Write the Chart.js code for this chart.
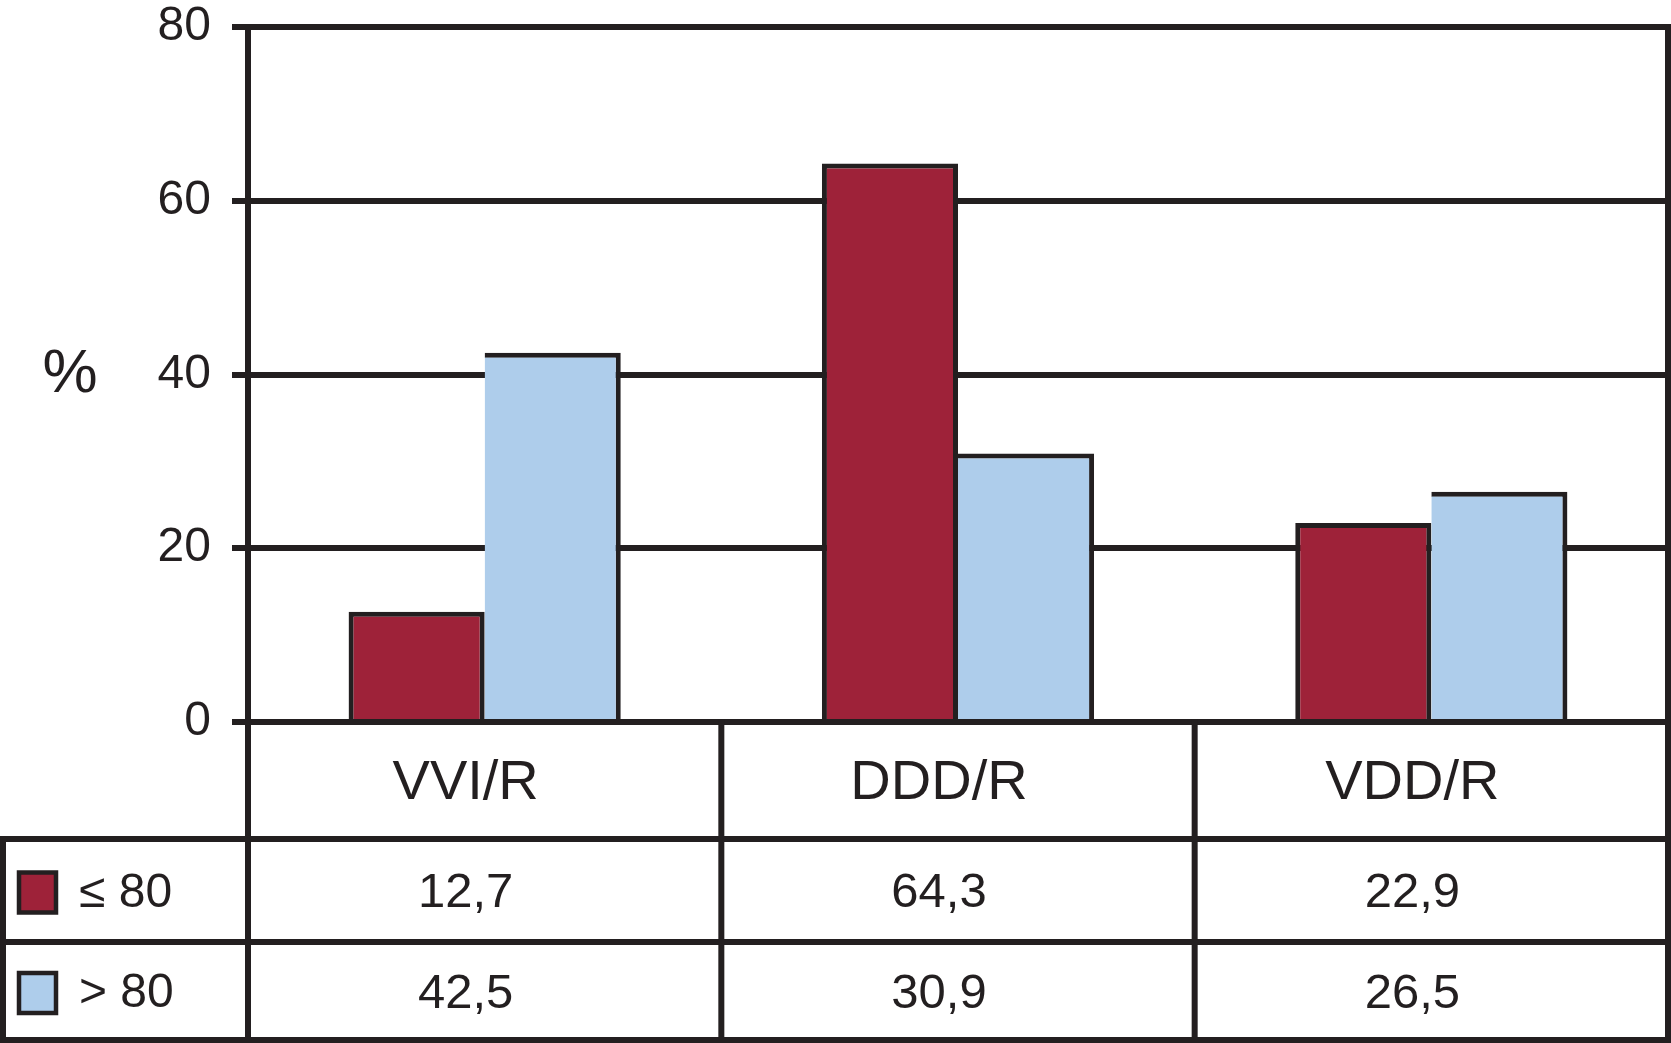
<!DOCTYPE html>
<html>
<head>
<meta charset="utf-8">
<script src="https://cdn.jsdelivr.net/npm/chart.js@4"></script>
<style>
    body { margin: 0; background: #fff; }
</style>
</head>
<body>
<canvas id="chart" width="1671" height="1043"></canvas>
<script>
const categories = ["VVI/R", "DDD/R", "VDD/R"];
const seriesNames = ["\u2264 80", "> 80"];
const lowAge = [12.7, 64.3, 22.9];   // <= 80
const highAge = [42.5, 30.9, 26.5];  // > 80
const yTicks = [0, 20, 40, 60, 80];

const ink = "#231f20";
const colors = ["#9e2239", "#aecdeb"];
const font = "'Liberation Sans', Arial, sans-serif";
const textShift = -19; // nel riferimento i testi della tabella sono un po' a sinistra

// tabella sotto il grafico
const tablePlugin = {
    id: "table",
    afterDraw(chart) {
        const ctx = chart.ctx;
        const area = chart.chartArea;
        const x = chart.scales.x;
        const half = (x.getPixelForValue(1) - x.getPixelForValue(0)) / 2;
        const edges = categories.map((c, i) => x.getPixelForValue(i) - half);
        edges.push(area.right);
        const rows = [area.bottom, area.bottom + 117, area.bottom + 220, area.bottom + 318];
        const tableLeft = 3;

        ctx.save();
        ctx.strokeStyle = ink;
        ctx.lineWidth = 6;
        ctx.lineCap = "square";
        ctx.beginPath();
        // righe orizzontali
        for (let r = 1; r < rows.length; r++) {
            ctx.moveTo(tableLeft, rows[r]);
            ctx.lineTo(area.right, rows[r]);
        }
        // colonne
        ctx.moveTo(tableLeft, rows[1]);
        ctx.lineTo(tableLeft, rows[3]);
        edges.forEach((e, i) => {
            ctx.moveTo(e, i === edges.length - 1 ? area.top : rows[0]);
            ctx.lineTo(e, rows[3]);
        });
        ctx.stroke();

        ctx.fillStyle = ink;
        ctx.textAlign = "center";
        ctx.textBaseline = "middle";
        ctx.font = "56px " + font;
        categories.forEach((c, i) => {
            ctx.fillText(c, x.getPixelForValue(i) + textShift, (rows[0] + rows[1]) / 2 + 3);
        });

        const series = [lowAge, highAge];
        series.forEach((vals, s) => {
            const cy = (rows[s + 1] + rows[s + 2]) / 2 + 3;
            ctx.font = "49px " + font;
            vals.forEach((v, i) => {
                ctx.fillText(String(v).replace(".", ","), x.getPixelForValue(i) + textShift, cy);
            });
            // legenda nella tabella
            ctx.fillStyle = colors[s];
            ctx.fillRect(19, cy - 21, 37, 40);
            ctx.lineWidth = 4.5;
            ctx.strokeRect(19, cy - 21, 37, 40);
            ctx.fillStyle = ink;
            ctx.textAlign = "left";
            ctx.font = "48px " + font;
            ctx.fillText(seriesNames[s], 79, cy);
            ctx.textAlign = "center";
        });

        // etichetta asse y
        ctx.font = "62px " + font;
        ctx.fillText("%", 70, 375);
        ctx.restore();
    },
};

new Chart(document.getElementById("chart"), {
    type: "bar",
    data: {
        labels: categories,
        datasets: [
            {
                label: seriesNames[0],
                data: lowAge,
                backgroundColor: colors[0],
                borderColor: ink,
                borderWidth: 5,
            },
            {
                label: seriesNames[1],
                data: highAge,
                backgroundColor: colors[1],
                borderColor: ink,
                borderWidth: { top: 5, right: 5, bottom: 0, left: 0 }, // bordo sinistro in comune con la barra rossa
                borderSkipped: false,
            },
        ],
    },
    options: {
        responsive: false,
        animation: false,
        devicePixelRatio: 1,
        layout: {
            padding: { top: 27, right: 3, bottom: 321, left: 0 },
        },
        datasets: {
            bar: {
                categoryPercentage: 0.575,
                barPercentage: 1,
            },
        },
        scales: {
            x: {
                display: false,
            },
            y: {
                min: 0,
                max: 80,
                afterBuildTicks(scale) {
                    scale.ticks = yTicks.map(v => ({ value: v }));
                },
                afterFit(scale) {
                    scale.width = 248;
                    scale.paddingTop = 0;    // niente spazio extra per l'etichetta 80
                    scale.paddingBottom = 0;
                },
                grid: {
                    color: ink,
                    lineWidth: 6,
                    tickLength: 16,
                },
                border: {
                    color: ink,
                    width: 6,
                },
                ticks: {
                    color: ink,
                    padding: 21,
                    font: { family: font, size: 48 },
                },
            },
        },
        plugins: {
            legend: { display: false },
            tooltip: { enabled: false },
        },
    },
    plugins: [tablePlugin],
});
</script>
</body>
</html>
